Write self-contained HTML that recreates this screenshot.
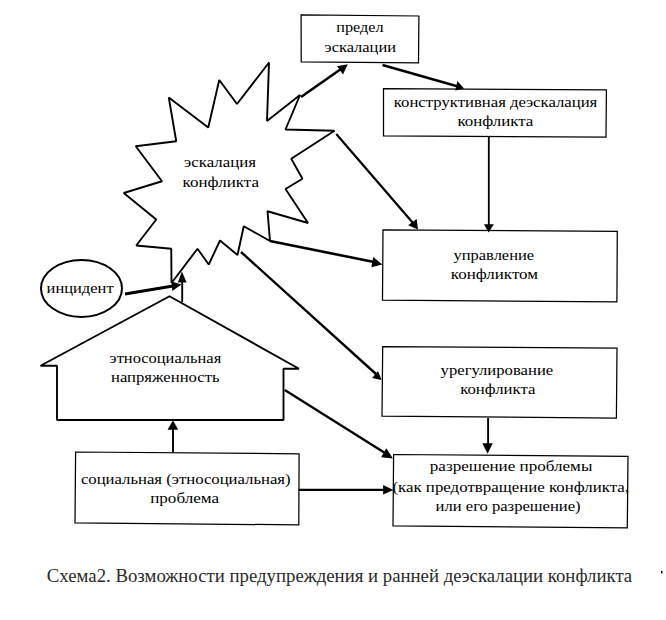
<!DOCTYPE html>
<html><head><meta charset="utf-8"><style>
html,body{margin:0;padding:0;background:#fff;width:666px;height:620px;overflow:hidden}
svg{display:block}
.g line,.g rect,.g polygon,.g ellipse{stroke:#000;fill:none}
.g polygon.f{fill:#000;stroke:none}
text{font-family:"Liberation Serif",serif;fill:#000}
</style></head><body>
<svg width="666" height="620" viewBox="0 0 666 620">
<g class="g">
<polygon points="301.1,14.9 418.9,16 418.5,62.9 301.2,61.9" stroke-width="1.25"/>
<polygon points="383.5,88.7 606.4,89.9 606,137.1 383.5,135.8" stroke-width="1.25"/>
<polygon points="383,229.8 617.3,231.4 616.9,301.9 382.5,300.2" stroke-width="1.25"/>
<polygon points="382.7,346.6 617,348 616.4,418 382,416.1" stroke-width="1.25"/>
<polygon points="393.6,454.5 628,456.3 627.3,527.9 393,525.8" stroke-width="1.25"/>
<polygon points="75.6,452 299.1,453.8 298.8,524.9 75,522.9" stroke-width="1.25"/>
<polygon points="168.75,97.5 208.25,127.5 219.25,80 237,104 269,62.5 267,121 300,95 285.5,129.5 334.5,130.75 291.25,158.75 302.5,178.75 285.5,189 308,223 267.5,211.25 270,241 243.75,226.25 237.5,255 220,240.5 208.75,264.5 197.5,248.75 171.5,283 171.25,248.75 136.25,245.5 156.25,219.5 123.75,193 162,181.25 135.75,146.25 176.25,141.25" stroke-width="1.9" stroke-linejoin="bevel"/>
<polygon points="169.5,296.25 299,368.75 283.5,368.75 283.5,420 57,420 57,365.75 40.5,365.75" stroke-width="1.9" stroke-linejoin="bevel"/>
<ellipse cx="81.5" cy="288.4" rx="40.5" ry="28.5" stroke-width="2"/>
<line x1="301" y1="97" x2="341" y2="69" stroke-width="2.6"/>
<line x1="382.5" y1="65" x2="458" y2="86.5" stroke-width="2.6"/>
<line x1="336.25" y1="134" x2="413" y2="223" stroke-width="2.2"/>
<line x1="488.8" y1="137" x2="488.8" y2="226" stroke-width="1.8"/>
<line x1="270" y1="241" x2="374" y2="262" stroke-width="2.6"/>
<line x1="241" y1="252" x2="376" y2="374" stroke-width="2.4"/>
<line x1="125" y1="294" x2="173" y2="286" stroke-width="2.8"/>
<line x1="182.2" y1="302" x2="182.2" y2="280" stroke-width="1.9"/>
<line x1="284.75" y1="390" x2="385" y2="453" stroke-width="2.4"/>
<line x1="173" y1="452" x2="173" y2="428" stroke-width="1.9"/>
<line x1="298.8" y1="489.9" x2="386" y2="489.9" stroke-width="2.4"/>
<line x1="488.1" y1="418" x2="488.1" y2="445" stroke-width="1.9"/>
<polygon class="f" points="347.8,64.2 337.2,66.3 343,74.4"/>
<polygon class="f" points="464,88.5 457.4,81 455.3,90.6"/>
<polygon class="f" points="418,229.4 408.1,225.3 416.7,219"/>
<polygon class="f" points="488.6,232.6 484,224.2 493.9,224.2"/>
<polygon class="f" points="382.3,264.4 373.3,257 371.3,267.3"/>
<polygon class="f" points="381.6,380 378,371 372.2,378"/>
<polygon class="f" points="181.5,284.5 171.5,281.5 172.3,291"/>
<polygon class="f" points="181.9,271.5 177.8,282.5 186.6,282.5"/>
<polygon class="f" points="392.9,458.5 381.2,457.3 386.3,448.3"/>
<polygon class="f" points="172.9,420.2 167.6,429.7 178.2,429.7"/>
<polygon class="f" points="393.4,489.9 383.1,485.1 383.1,494.6"/>
<polygon class="f" points="487.6,453.7 482.3,443.3 492.8,443.3"/>
</g>
<text x="336.2" y="32.4" textLength="47.4" lengthAdjust="spacingAndGlyphs" font-size="15.5" >предел</text>
<text x="324.6" y="52" textLength="71.4" lengthAdjust="spacingAndGlyphs" font-size="15.5" >эскалации</text>
<text x="393.8" y="106.8" textLength="203.5" lengthAdjust="spacingAndGlyphs" font-size="15.5" >конструктивная деэскалация</text>
<text x="457.4" y="126" textLength="76.0" lengthAdjust="spacingAndGlyphs" font-size="15.5" >конфликта</text>
<text x="184.0" y="167" textLength="72.0" lengthAdjust="spacingAndGlyphs" font-size="15.5" >эскалация</text>
<text x="182.6" y="187" textLength="76.4" lengthAdjust="spacingAndGlyphs" font-size="15.5" >конфликта</text>
<text x="453.4" y="259.5" textLength="80.8" lengthAdjust="spacingAndGlyphs" font-size="15.5" >управление</text>
<text x="450.8" y="279" textLength="87.2" lengthAdjust="spacingAndGlyphs" font-size="15.5" >конфликтом</text>
<text x="440.6" y="375.4" textLength="112.6" lengthAdjust="spacingAndGlyphs" font-size="15.5" >урегулирование</text>
<text x="460.2" y="394.4" textLength="75.2" lengthAdjust="spacingAndGlyphs" font-size="15.5" >конфликта</text>
<text x="429.8" y="470.6" textLength="162.6" lengthAdjust="spacingAndGlyphs" font-size="15.5" >разрешение проблемы</text>
<text x="392.4" y="491.7" textLength="236.6" lengthAdjust="spacingAndGlyphs" font-size="15.5" >(как предотвращение конфликта,</text>
<text x="435.6" y="510.6" textLength="145.0" lengthAdjust="spacingAndGlyphs" font-size="15.5" >или его разрешение)</text>
<text x="80.9" y="484.4" textLength="209.7" lengthAdjust="spacingAndGlyphs" font-size="15.5" >социальная (этносоциальная)</text>
<text x="150.2" y="503.3" textLength="68.8" lengthAdjust="spacingAndGlyphs" font-size="15.5" >проблема</text>
<text x="109.6" y="362.5" textLength="111.6" lengthAdjust="spacingAndGlyphs" font-size="15.5" >этносоциальная</text>
<text x="111.0" y="382.3" textLength="108.6" lengthAdjust="spacingAndGlyphs" font-size="15.5" >напряженность</text>
<text x="46.6" y="292.5" textLength="67.0" lengthAdjust="spacingAndGlyphs" font-size="15.5" >инцидент</text>
<text x="46.8" y="582.4" textLength="585.4" lengthAdjust="spacingAndGlyphs" font-size="18" style="fill:#2a2a2a">Схема2. Возможности предупреждения и ранней деэскалации конфликта</text>
<rect x="661" y="571" width="1.5" height="2.5" fill="#000"/>
</svg>
</body></html>
